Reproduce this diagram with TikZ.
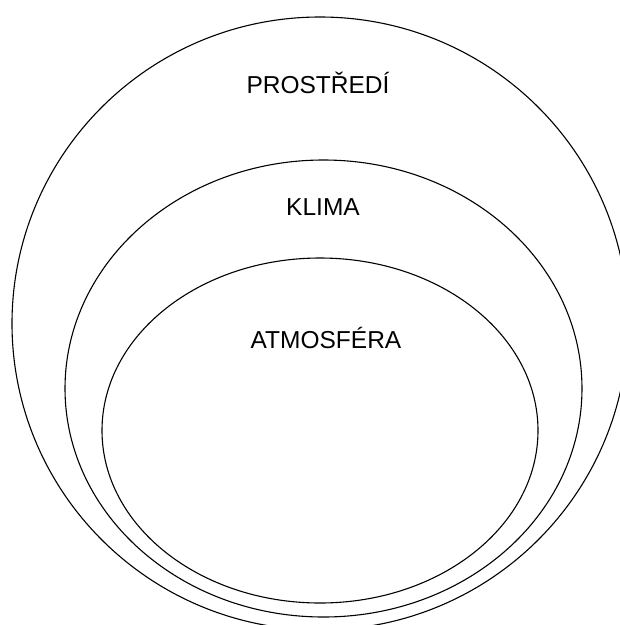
\documentclass[tikz,border=0pt]{standalone}
\usepackage{fontspec}
\setmainfont{Liberation Sans}
\begin{document}
\begin{tikzpicture}[x=1pt,y=-1pt,
  ring/.style={draw=black,line width=1.1pt},
  label/.style={anchor=base,inner sep=0pt,font=\fontsize{24.5}{28}\selectfont}]
\useasboundingbox (0,0) rectangle (620,625);
\fill[white] (0,0) rectangle (620,625);
\begin{scope}
\clip (0,0) rectangle (620,625);
\draw[ring] (320,323.5) ellipse [x radius=308pt, y radius=306.5pt];
\draw[ring] (323.5,388.5) ellipse [x radius=258.5pt, y radius=228.5pt];
\draw[ring] (320,430.5) ellipse [x radius=218pt, y radius=172.5pt];
\end{scope}
\node[label] (prostredi) at (318,93) {PROSTŘEDÍ};
\node[label] (klima) at (323,215) {KLIMA};
\node[label] (atmosfera) at (326,348) {ATMOSFÉRA};
\end{tikzpicture}
\end{document}
